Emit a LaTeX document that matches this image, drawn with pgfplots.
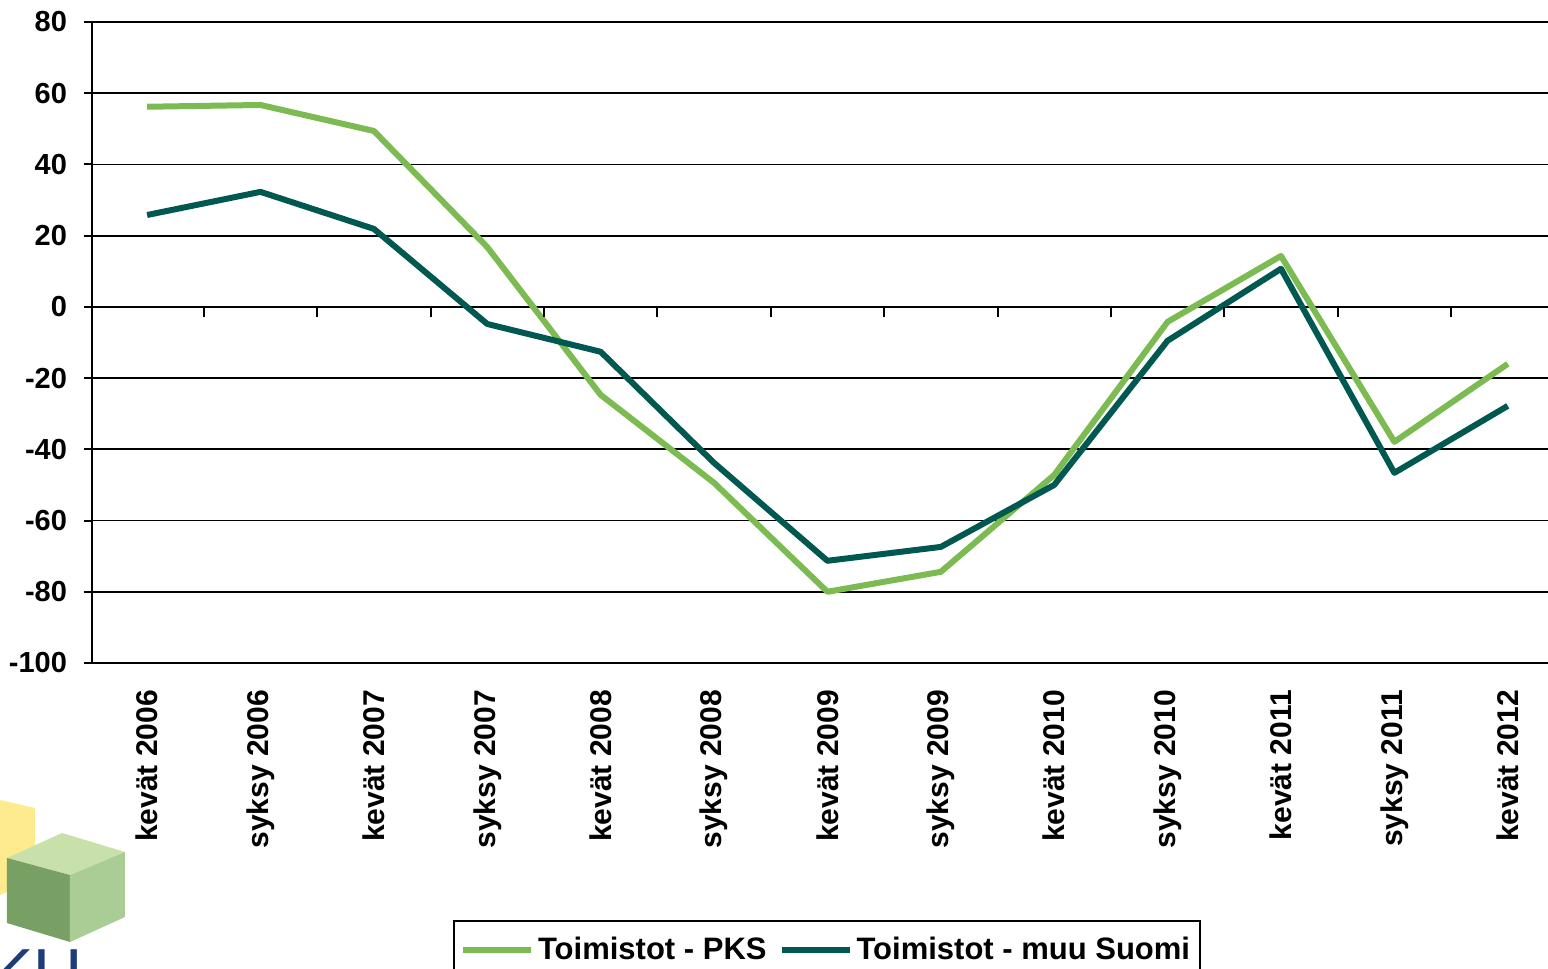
\documentclass[border=0pt]{standalone}
\usepackage{pgfplots}
\pgfplotsset{compat=1.18}
\usepackage{fontspec}
\setmainfont{Liberation Sans}
\definecolor{pks}{RGB}{124,186,82}
\definecolor{muu}{RGB}{0,88,80}
\definecolor{logoblue}{RGB}{30,60,120}

\begin{document}
\begin{tikzpicture}[font=\bfseries]
\useasboundingbox (-46pt,-153pt) rectangle (728pt,331.5pt);
% logo (decorative), coordinates: X=(px-92)/2, Y=(663-py)/2
\fill[yellow!70!orange, opacity=0.45] (-46pt,-68.5pt) -- (-28.5pt,-72.5pt) -- (-28.5pt,-108.5pt) -- (-46pt,-116pt) -- cycle;
\fill[fill={rgb,255:red,200;green,225;blue,170}] (-42.5pt,-97.5pt) -- (-15pt,-85pt) -- (16.5pt,-94.5pt) -- (-11pt,-106pt) -- cycle;
\fill[fill={rgb,255:red,120;green,160;blue,100}] (-42.5pt,-97.5pt) -- (-11pt,-106pt) -- (-11pt,-139.5pt) -- (-42.5pt,-130pt) -- cycle;
\fill[fill={rgb,255:red,170;green,205;blue,150}] (-11pt,-106pt) -- (16.5pt,-94.5pt) -- (16.5pt,-127pt) -- (-11pt,-139.5pt) -- cycle;
\node[anchor=north west, inner sep=0pt, text=logoblue, font=\fontsize{34}{34}\selectfont] at (-52pt,-143pt) {KU};
\begin{axis}[
  at={(0pt,0pt)}, anchor=south west,
  scale only axis, width=728pt, height=320.5pt,
  xmin=-0.486, xmax=12.355, ymin=-100, ymax=80,
  axis x line*=bottom, axis y line*=left,
  x axis line style={draw=none},
  y axis line style={black, line width=1pt},
  ytick={-100,-80,...,80},
  xtick={0,...,12},
  xticklabels={kevät 2006, syksy 2006, kevät 2007, syksy 2007, kevät 2008, syksy 2008, kevät 2009, syksy 2009, kevät 2010, syksy 2010, kevät 2011, syksy 2011, kevät 2012},
  xtick style={draw=none},
  ytick style={black, line width=1pt},
  tick align=outside, major tick length=4pt,
  ymajorgrids, grid style={black, line width=0.9pt},
  /pgf/number format/assume math mode=true,
  xticklabel style={rotate=90, anchor=east, font=\fontsize{15}{15}\selectfont\bfseries, xshift=-6pt},
  yticklabel style={font=\fontsize{14.5}{15}\selectfont\bfseries, xshift=-5pt},
  legend style={at={(0.248,-0.401)}, anchor=north west, legend columns=2, draw=black, line width=1pt, font=\fontsize{15.5}{16}\selectfont\bfseries, inner xsep=3pt, inner ysep=6pt,
    /tikz/every even column/.append style={column sep=4pt}},
  legend image code/.code={\draw[#1] (0pt,0pt) -- (34pt,0pt);},
  legend cell align=left,
]
\addplot[pks, line width=3pt, line join=round] coordinates {
(0,56.2) (1,56.7) (2,49.4) (3,16.8) (4,-24.7) (5,-49.4) (6,-80) (7,-74.4) (8,-47.2) (9,-4.2) (10,14.3) (11,-37.9) (12,-16)};
\addlegendentry{Toimistot - PKS}
\addplot[muu, line width=3pt, line join=round] coordinates {
(0,25.8) (1,32.3) (2,21.9) (3,-4.8) (4,-12.6) (5,-43.8) (6,-71.3) (7,-67.4) (8,-50) (9,-9.5) (10,10.7) (11,-46.6) (12,-27.8)};
\addlegendentry{Toimistot - muu Suomi}
\pgfplotsinvokeforeach{0.5,1.5,...,11.5}{\draw[black, line width=1pt] (axis cs:#1,0) -- ++(0pt,-5pt);}
\end{axis}
\end{tikzpicture}
\end{document}
